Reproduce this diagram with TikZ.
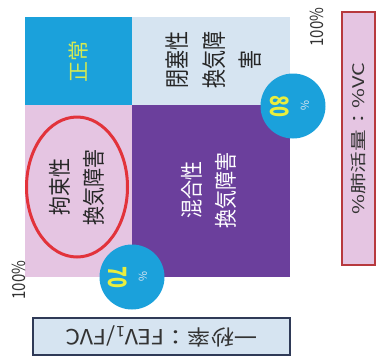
\documentclass[tikz,border=0pt]{standalone}
\usepackage{fontspec}
\usepackage{graphicx}
\setmainfont{Noto Sans CJK JP}
\usetikzlibrary{positioning, shapes.geometric}
\definecolor{cellcyan}{HTML}{1BA1DB}
\definecolor{cellblue}{HTML}{D6E4F1}
\definecolor{celllilac}{HTML}{E5C5E2}
\definecolor{cellpurple}{HTML}{6B3F9C}
\definecolor{ringred}{HTML}{E2333B}
\definecolor{textyellow}{HTML}{E9EE3E}
\definecolor{textlime}{HTML}{D6EA50}
\definecolor{boxnavy}{HTML}{2F3A57}
\definecolor{boxred}{HTML}{B7393E}

\begin{document}
\begin{tikzpicture}[x=1pt, y=-1pt,
		cell/.style={rectangle, inner sep=0pt, outer sep=0pt, anchor=north west},
		vtext/.style={rotate=90, align=center, text=black!85, font=\fontsize{19}{28}\selectfont},
		badge/.style={circle, fill=cellcyan, minimum size=65pt, inner sep=0pt},
		badgenum/.style={rotate=-90, yscale=1.4, text=textyellow, font=\fontsize{18}{18}\selectfont\bfseries},
		badgepct/.style={rotate=-90, text=cellblue, font=\fontsize{11}{11}\selectfont},
		axislabel/.style={rotate=90, yscale=1.2, text=black!80, font=\fontsize{15}{15}\selectfont},
		labelbox/.style={draw, line width=2pt, text=black!80}]
		\useasboundingbox (0,0) rectangle (376,360);
		% the four regions
		\node [cell, fill=cellcyan, minimum width=107pt, minimum height=88pt] (normal) at (25,17) {};
		\node [cell, fill=cellblue, minimum width=158pt, minimum height=88pt, right=0pt of normal] (obstr) {};
		\node [cell, fill=celllilac, minimum width=107pt, minimum height=172pt, below=0pt of normal] (restr) {};
		\node [cell, fill=cellpurple, minimum width=158pt, minimum height=172pt, right=0pt of restr] (mixed) {};
		
		\node [vtext, text=textlime, font=\fontsize{21}{21}\selectfont] (normaltxt) at (normal) {正常};
		\node [vtext, yscale=1.3] (obstrtxt) at (214,60) {閉塞性\\換気障\\害};
		\node [vtext, yscale=1.2] (restrtxt) at (77,187) {拘束性\\換気障害};
		\node [vtext, yscale=1.2, text=white] (mixedtxt) at (209,190) {混合性\\換気障害};
		\node [ellipse, draw=ringred, line width=3pt, minimum width=101pt, minimum height=140pt] (ring) at (restrtxt) {};
		
		% cut-off values
		\node [badge] (b80) at (293,106) {};
		\node [badgenum] (n80) at ([xshift=-13pt]b80.center) {80};
		\node [badgepct] (p80) at ([xshift=12pt]b80.center) {\%};
		\node [badge] (b70) at (restr.south east) {};
		\node [badgenum] (n70) at ([xshift=-14pt]b70.center) {70};
		\node [badgepct] (p70) at ([xshift=11pt]b70.center) {\%};
		
		\node [axislabel] (top100) at (317,27) {100\%};
		\node [axislabel] (left100) at (19,280) {100\%};
		
		% axis titles
		\node [labelbox, draw=boxnavy, fill=cellblue, minimum width=257pt, minimum height=37pt, rotate=180, font=\fontsize{21}{21}\selectfont] (fevbox) at (161.5,336.5) {\scalebox{1.1}[1]{一秒率：FEV\textsubscript{1}/FVC}};
		\node [labelbox, draw=boxred, fill=celllilac, minimum width=253pt, minimum height=33pt, rotate=90, font=\fontsize{16}{16}\selectfont] (vcbox) at (358.5,138.5) {\scalebox{1.35}[1]{\%肺活量：\%VC}};
	\end{tikzpicture}
\end{document}
